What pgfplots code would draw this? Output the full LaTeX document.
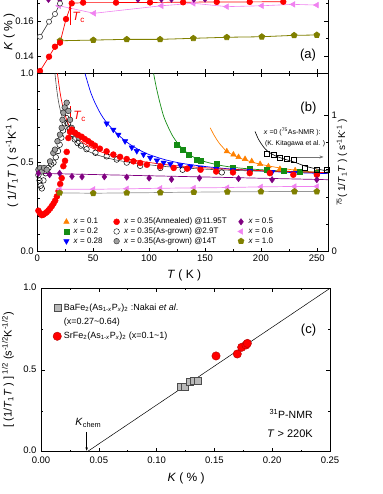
\documentclass[border=0pt]{standalone}
\usepackage{fontspec}
\setmainfont{Liberation Sans}
\setsansfont{Liberation Sans}
\usepackage{pgfplots}
\pgfplotsset{compat=1.18}
\usetikzlibrary{arrows.meta}

\definecolor{cOrange}{RGB}{255,128,0}
\definecolor{cGreen}{RGB}{20,140,20}
\definecolor{cBlue}{RGB}{0,0,255}
\definecolor{cRed}{RGB}{255,0,0}
\definecolor{cPurple}{RGB}{128,0,128}
\definecolor{cPink}{RGB}{240,130,240}
\definecolor{cOlive}{RGB}{128,128,0}
\definecolor{cGray}{RGB}{150,150,150}
\definecolor{cFill}{RGB}{185,185,185}
\definecolor{cFillB}{RGB}{160,160,160}

\newcommand{\fs}[1]{\fontsize{#1}{#1}\selectfont}

\pgfplotsset{
  myax/.style={
    scale only axis, anchor=south west,
    /pgf/number format/assume math mode=true,
    tick label style={font=\fs{9.5}},
    label style={font=\fs{12}},
    tick align=inside,
    major tick length=4pt, minor tick length=2.2pt,
    axis line style={line width=0.6pt},
    every tick/.style={black, line width=0.5pt},
  },
}

\begin{document}
\begin{tikzpicture}
\path[use as bounding box, clip] (0pt,0pt) rectangle (382pt,494pt);

% ---------------- panel (a)
\begin{axis}[myax,
  at={(37.3pt,420.5pt)}, width=290.7pt, height=87.5pt,
  xmin=0, xmax=260, ymin=0.13, ymax=0.18,
  xtick={0,50,100,150,200,250}, minor x tick num=1, xticklabels={},
  ytick={0.14,0.16}, minor ytick={0.15,0.17},
  yticklabel style={/pgf/number format/.cd, fixed, fixed zerofill, precision=2},
  ylabel={\textit{K} ( \% )},
  ylabel style={at={(axis description cs:-0.096,0.474)}, anchor=center},
]
\addplot[cOlive, line width=0.8pt, mark=pentagon*, mark size=3, mark options={fill=cOlive}] coordinates {
(20.3,0.1487)(50.1,0.1491)(80,0.1495)(109.8,0.1495)(139.6,0.1501)(169.5,0.1507)(200.8,0.1510)(229.7,0.1518)(250,0.1520)};
\addplot[cPink, line width=0.6pt, mark=triangle*, mark size=3.2, mark options={rotate=90, fill=cPink}] coordinates {
(19.4,0.1687)(50.7,0.1644)(111,0.1687)(139.6,0.1701)(169.5,0.1682)(200.8,0.1687)(229,0.1695)(250,0.1691)};
\addplot[cPurple, line width=0.6pt, mark=diamond*, mark size=3.4, mark options={fill=cPurple}] coordinates {
(10,0.1725)(20,0.1725)(90,0.1725)(111,0.1726)(120,0.1726)(140,0.1726)(150,0.1727)(160,0.1727)};
\addplot[black!80, line width=0.6pt, mark=*, mark size=2.6, mark options={fill=white, draw=black!75}] coordinates {
(2.4,0.151)(10.5,0.1596)(15.8,0.164)(20.3,0.170)(25,0.176)(29,0.181)};
\addplot[cRed, line width=0.7pt, mark=*, mark size=2.8, mark options={fill=cRed}] coordinates {
(2.4,0.1314)(10.5,0.1396)(15.8,0.1453)(20.3,0.1476)(25.7,0.1611)(30.8,0.1701)(41,0.1705)(70.4,0.1705)(100.8,0.1706)(130.4,0.1707)(160.5,0.1709)(190,0.1709)(220,0.1710)};
\draw[cRed, -{Stealth[length=4pt,width=3pt]}, line width=0.6pt] (axis cs:29.3,0.1577) -- (axis cs:29.3,0.1691);
\node[cRed, font=\fs{12}] at (axis cs:37,0.1622) {\textit{T}\textsubscript{c}};
\node[font=\fs{13}] at (axis cs:242.2,0.1406) {(a)};
\end{axis}

% ---------------- panel (b)
\begin{axis}[myax,
  at={(37.3pt,242.3pt)}, width=290.7pt, height=178.2pt,
  xmin=0, xmax=260, ymin=0, ymax=1,
  xtick={0,50,100,150,200,250}, minor x tick num=1,
  ytick={0,0.5,1}, minor y tick num=4, ytick pos=left,
  yticklabel style={/pgf/number format/.cd, fixed, fixed zerofill, precision=1},
  xlabel={\textit{T} ( K )},
  xlabel style={at={(axis description cs:0.505,-0.131)}, anchor=center},
  ylabel={( 1/\textit{T}\textsubscript{1}\textit{T} ) ( s\textsuperscript{-1}K\textsuperscript{-1} )},
  ylabel style={at={(axis description cs:-0.087,0.5)}, anchor=center, font=\fs{11.5}},
  legend columns=3,
  legend cell align=left,
  legend style={at={(axis description cs:0.090,0.195)}, anchor=north west, draw=none, fill=none,
     inner sep=0pt, font=\fs{8}, nodes={inner sep=1pt}, row sep=0.4pt,
     /tikz/every odd column/.append style={column sep=3.5pt},
     /tikz/every even column/.append style={column sep=10pt}},
]
\addlegendimage{only marks, mark=triangle*, mark size=3.2, color=cOrange}
\addlegendentry{\textit{x} = 0.1}
\addlegendimage{only marks, mark=*, mark size=3, color=cRed}
\addlegendentry{\textit{x} = 0.35(Annealed) @11.95T}
\addlegendimage{only marks, mark=diamond*, mark size=3.2, color=cPurple}
\addlegendentry{\textit{x} = 0.5}
\addlegendimage{only marks, mark=square*, mark size=2.5, color=cGreen}
\addlegendentry{\textit{x} = 0.2}
\addlegendimage{only marks, mark=o, mark size=2.8, color=black}
\addlegendentry{\textit{x} = 0.35(As-grown) @2.9T}
\addlegendimage{only marks, mark=triangle*, mark size=3.2, color=cPink, mark options={rotate=90}}
\addlegendentry{\textit{x} = 0.6}
\addlegendimage{only marks, mark=triangle*, mark size=3.2, color=cBlue, mark options={rotate=180}}
\addlegendentry{\textit{x} = 0.28}
\addlegendimage{only marks, mark=*, mark size=2.8, draw=black!85, fill=cFillB}
\addlegendentry{\textit{x} = 0.35(As-grown) @14T}
\addlegendimage{only marks, mark=pentagon*, mark size=3.2, color=cOlive}
\addlegendentry{\textit{x} = 1.0}

% fit lines
\addplot[forget plot, cOrange, line width=0.7pt, smooth] coordinates {
(154.7,0.695)(158,0.655)(162,0.615)(166,0.585)(170,0.56)(180,0.528)(190,0.507)(200,0.49)(215,0.472)(230,0.458)(250,0.445)(258,0.44)};
\addplot[forget plot, cGreen, line width=0.7pt, smooth] coordinates {
(104,1.0)(106.5,0.92)(109.5,0.84)(113,0.76)(117,0.70)(121,0.65)(126,0.605)(132,0.565)(140,0.53)(150,0.505)(165,0.483)(180,0.47)(200,0.46)(225,0.451)(250,0.445)(260,0.443)};
\addplot[forget plot, cBlue, line width=0.7pt, smooth] coordinates {
(42.7,1.0)(45,0.95)(48,0.89)(52,0.83)(57,0.77)(62,0.725)(70,0.67)(80,0.615)(90,0.575)(100,0.545)(115,0.515)(130,0.495)(150,0.478)(175,0.463)(200,0.453)(225,0.445)(250,0.44)(260,0.438)};
\addplot[forget plot, black!70, line width=0.6pt, smooth] coordinates {
(15.8,1.0)(17,0.93)(18.5,0.86)(20,0.81)(22,0.76)(25,0.71)(28,0.67)(32,0.635)(38,0.595)(45,0.565)(55,0.54)(70,0.515)(90,0.495)(120,0.475)(160,0.46)(200,0.452)(250,0.445)(260,0.443)};
\addplot[forget plot, cRed, line width=0.7pt, smooth] coordinates {
(18,1.0)(19.5,0.93)(21,0.87)(23,0.81)(25.5,0.755)(28.5,0.705)(32,0.665)(38,0.625)(45,0.595)(55,0.565)(70,0.535)(90,0.51)(120,0.485)(160,0.467)(200,0.455)(250,0.445)(260,0.443)};
\addplot[forget plot, cPurple, line width=0.7pt] coordinates {(0,0.44)(260,0.404)};
\addplot[forget plot, cPink, line width=0.7pt] coordinates {
(20,0.35)(50,0.35)(80,0.353)(110,0.356)(140,0.358)(170,0.36)(200,0.364)(230,0.366)(250,0.366)};
\addplot[forget plot, cGray, line width=0.7pt] coordinates {
(20,0.33)(50,0.328)(80,0.33)(110,0.332)(140,0.334)(170,0.336)(200,0.337)(230,0.338)(250,0.338)};

% data
\addplot[forget plot, only marks, mark=triangle*, mark size=3.2, color=cOrange] coordinates {
(169.5,0.563)(175.4,0.545)(180,0.531)(185.8,0.52)(191.8,0.507)(199.3,0.492)(206.7,0.479)(217,0.464)(230.6,0.456)(250,0.445)};
\addplot[forget plot, only marks, mark=square*, mark size=2.5, color=cGreen] coordinates {
(124.7,0.60)(130,0.573)(135,0.545)(142.6,0.516)(146,0.51)(160.5,0.492)(175,0.473)(190,0.464)(205,0.458)(220,0.452)(235,0.448)(250,0.445)};
\addplot[forget plot, only marks, mark=triangle*, mark size=3.2, color=cBlue, mark options={rotate=180}] coordinates {
(62,0.72)(68,0.685)(72.5,0.657)(78.5,0.62)(84.5,0.585)(89,0.565)(95,0.545)(101,0.527)(107,0.512)(113,0.50)(119,0.492)(128,0.485)(137,0.478)(146,0.472)(160,0.465)(175,0.458)(190,0.453)(210,0.447)(230,0.442)(250,0.438)};
\addplot[forget plot, only marks, mark=o, mark size=2.8, color=black, line width=0.5pt] coordinates {
(1,0.43)(2,0.40)(3,0.37)(4,0.355)(5.5,0.40)(7.5,0.44)(10,0.47)(12.5,0.49)(14.5,0.50)(16.5,0.53)(18.5,0.565)(20,0.60)(21.5,0.64)(23,0.68)(24.5,0.72)(26,0.75)(27.5,0.72)(29,0.69)(31,0.66)(33.5,0.63)(36,0.61)(39,0.595)(44,0.575)(52,0.555)(62,0.535)(71,0.517)(80,0.50)(92,0.482)(110,0.47)(130,0.46)(165,0.445)};
\addplot[forget plot, only marks, mark=*, mark size=2.8, draw=black!85, fill=cFillB, line width=0.5pt] coordinates {
(1,0.46)(2.5,0.47)(4,0.45)(6,0.47)(8.4,0.46)(11.4,0.507)(14.3,0.554)(15.8,0.573)(18,0.62)(20.3,0.657)(21.8,0.695)(22.5,0.74)(23.3,0.78)(24.5,0.81)(26.3,0.836)(27.8,0.79)(29.3,0.74)(30.8,0.695)(33.7,0.667)(37,0.64)};
\addplot[forget plot, only marks, mark=*, mark size=3, color=cRed] coordinates {
(1,0.23)(2.5,0.215)(4,0.205)(5.5,0.208)(7,0.215)(8.5,0.222)(10,0.232)(11.5,0.243)(13,0.256)(14.5,0.27)(16,0.287)(17.5,0.31)(19,0.34)(20.5,0.38)(21.8,0.413)(23.3,0.48)(24.8,0.51)(26.3,0.56)(27.8,0.638)(29.3,0.672)(30.8,0.685)(33.7,0.667)(36.5,0.655)(39.7,0.645)(42.5,0.632)(45.6,0.62)(48.5,0.607)(51.6,0.595)(56,0.578)(62,0.563)(68,0.545)(74,0.532)(80,0.52)(86,0.507)(92,0.498)(98,0.488)(110,0.479)(122,0.47)(134,0.466)(146,0.46)(160,0.45)(175,0.445)(190,0.441)(208,0.441)(229,0.432)(250,0.432)};
\addplot[forget plot, only marks, mark=diamond*, mark size=3.2, color=cPurple] coordinates {
(1,0.44)(11,0.432)(20,0.44)(31,0.422)(40,0.42)(60,0.42)(80,0.418)(100,0.413)(120,0.406)(145,0.413)(180,0.41)(210,0.404)(250,0.404)};
\addplot[forget plot, only marks, mark=triangle*, mark size=3.2, color=cPink, mark options={rotate=90}] coordinates {
(20,0.35)(50,0.35)(80,0.353)(110,0.356)(140,0.358)(170,0.36)(200,0.364)(230,0.366)(250,0.366)};
\addplot[forget plot, only marks, mark=pentagon*, mark size=3.2, color=cOlive] coordinates {
(20,0.33)(50,0.328)(80,0.33)(110,0.332)(140,0.334)(170,0.336)(200,0.337)(230,0.338)(250,0.338)};

\draw[cRed, -{Stealth[length=4pt,width=3pt]}, line width=0.6pt] (axis cs:29.9,0.815) -- (axis cs:29.9,0.727);
\node[cRed, font=\fs{12}] at (axis cs:37.8,0.758) {\textit{T}\textsubscript{c}};
\node[font=\fs{13}] at (axis cs:242.5,0.807) {(b)};
\node[font=\fs{7}] at (axis cs:228,0.674) {\textit{x} =0 (\textsuperscript{75}As-NMR ):};
\node[font=\fs{6.8}] at (axis cs:230.6,0.606) {(K. Kitagawa et al. )};
\draw[black!55, -{Stealth[length=4pt,width=3pt]}, line width=0.6pt] (axis cs:232.4,0.5315) -- (axis cs:256,0.5315);
\end{axis}

% right axis of panel (b)
\begin{axis}[myax,
  at={(37.3pt,242.3pt)}, width=290.7pt, height=178.2pt,
  xmin=0, xmax=260, ymin=0, ymax=1.3036,
  axis x line=none, axis y line*=right,
  ytick={0,1}, minor y tick num=4,
  ylabel={\textsuperscript{75}( 1/\textit{T}\textsubscript{1}\textit{T} ) ( s\textsuperscript{-1}K\textsuperscript{-1} )},
  ylabel style={at={(axis description cs:1.048,0.5)}, anchor=center, font=\fs{10}},
]
\addplot[black, line width=0.6pt, smooth] coordinates {
(194.7,0.88)(198,0.82)(202,0.77)(206,0.735)(212,0.705)(220,0.68)(230,0.655)(240,0.625)(250,0.605)(260,0.59)};
\addplot[only marks, mark=square, mark size=2.5, black, line width=0.5pt] coordinates {
(205.3,0.72)(211.2,0.707)(217.2,0.69)(223.2,0.683)(229,0.671)(239.5,0.617)(250,0.603)(259,0.598)};
\end{axis}

% ---------------- panel (c)
\begin{axis}[myax,
  at={(41pt,42.3pt)}, width=289pt, height=163.4pt,
  xmin=0, xmax=0.25, ymin=0, ymax=1,
  xtick={0,0.05,0.1,0.15,0.2,0.25}, minor x tick num=1,
  ytick={0,0.5,1}, minor y tick num=1,
  xticklabel style={yshift=-1.5pt, /pgf/number format/.cd, fixed, fixed zerofill, precision=2},
  yticklabel style={xshift=-1pt, yshift=1pt, /pgf/number format/.cd, fixed, fixed zerofill, precision=1},
  xlabel={\textit{K} ( \% )},
  xlabel style={at={(axis description cs:0.502,-0.161)}, anchor=center},
  ylabel={[ (1/\textit{T}\textsubscript{1}\textit{T} ) ]\textsuperscript{ 1/2} (s\textsuperscript{-1/2}K\textsuperscript{-1/2})},
  ylabel style={at={(axis description cs:-0.114,0.5)}, anchor=center, font=\fs{11}},
  legend cell align=left,
  legend style={at={(axis description cs:0.026,0.91)}, anchor=north west, draw=none, fill=none,
     inner sep=0pt, font=\fs{9}, nodes={inner sep=1pt}, row sep=4pt,
     /tikz/every odd column/.append style={column sep=1.5pt}},
]
\addplot[forget plot, black, line width=0.5pt] coordinates {(0.04,0)(0.25,1.0)};
\addplot[only marks, mark=square*, mark size=3.5, draw=black!70, fill=cFill, line width=0.5pt] coordinates {
(0.1205,0.398)(0.1240,0.400)(0.1285,0.428)(0.1320,0.434)(0.1355,0.437)};
\addlegendentry{BaFe\textsubscript{2}(As\textsubscript{1-\textit{x}}P\textsubscript{\textit{x}})\textsubscript{2} :Nakai \textit{et al}.}
\addlegendimage{empty legend}
\addlegendentry{(x=0.27\textasciitilde0.64)}
\addplot[only marks, mark=*, mark size=4.2, draw=red!70!black, fill=cRed, line width=0.4pt] coordinates {
(0.1514,0.586)(0.1698,0.598)(0.1736,0.639)(0.1773,0.653)(0.1785,0.663)};
\addlegendentry{SrFe\textsubscript{2}(As\textsubscript{1-\textit{x}}P\textsubscript{\textit{x}})\textsubscript{2} (x=0.1\textasciitilde1)}
\draw[black, -{Stealth[length=3.5pt,width=2.5pt]}, line width=0.4pt] (axis cs:0.0395,0.122) -- (axis cs:0.0395,0.006);
\node[font=\fs{10.5}] at (axis cs:0.041,0.178) {\textit{K}\textsubscript{chem}};
\node[font=\fs{10.5}] at (axis cs:0.2163,0.231) {\textsuperscript{31}P-NMR};
\node[font=\fs{11}] at (axis cs:0.2154,0.108) {\textit{T} > 220K};
\node[font=\fs{13}] at (axis cs:0.2314,0.745) {(c)};
\end{axis}
\end{tikzpicture}
\end{document}
